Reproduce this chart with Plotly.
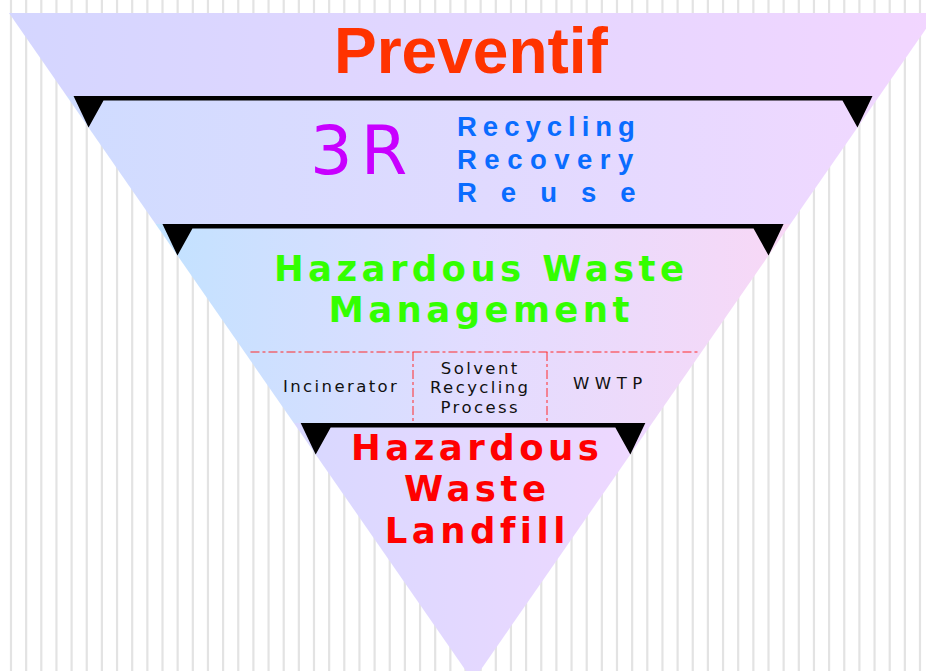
import plotly.graph_objects as go

# ---------------- content ----------------
top_label = "Preventif"
r3_label = "3R"
r3_items = ["Recycling", "Recovery", "Reuse"]
mgmt_lines = ["Hazardous Waste", "Management"]
treatments = [["Incinerator"], ["Solvent", "Recycling", "Process"], ["WWTP"]]
landfill_lines = ["Hazardous", "Waste", "Landfill"]

# ---------------- geometry (pixel space of the 926x671 canvas) ----------------
W, H = 926, 671
CX = 473.0            # centre line of the inverted triangle
TOP_Y = 13.0          # top edge of the triangle
APEX_Y = 681.0        # apex (just below the canvas)
TOP_HALF = 464.0      # half width at the top edge
K = TOP_HALF / (APEX_Y - TOP_Y)

def half(y):
    return (APEX_Y - y) * K

level_tops = [96, 224, 423]          # y of the black separators
bar_th = 4.5
tip_depth = 31.5
tip_w = 15.0

section_bounds = [TOP_Y, 96, 224, 423, APEX_Y]
section_colors = [
    [[0, "#d4d6ff"], [1, "#f2d6ff"]],
    [[0, "#cfdcff"], [1, "#f0d8ff"]],
    [[0, "#c2e2ff"], [0.5, "#e2dcff"], [1, "#f8d8f6"]],
    [[0, "#d8d8ff"], [1, "#efd8ff"]],
]

fig = go.Figure()

# background vertical stripes
stripe_x0, stripe_dx, n_stripes = 11.0, 15.15, 61
shapes = []
for i in range(n_stripes):
    x = stripe_x0 + i * stripe_dx
    shapes.append(dict(type="line", xref="x", yref="y", x0=x, x1=x, y0=0, y1=H,
                       line=dict(color="#e3e3e3", width=2.2), layer="below"))

# triangle sections with horizontal gradients
for (y0, y1), cs in zip(zip(section_bounds[:-1], section_bounds[1:]), section_colors):
    xs = [CX - half(y0), CX + half(y0), CX + half(y1), CX - half(y1), CX - half(y0)]
    ys = [y0, y0, y1, y1, y0]
    fig.add_trace(go.Scatter(x=xs, y=ys, mode="lines", fill="toself",
                             fillgradient=dict(type="horizontal", colorscale=cs),
                             line=dict(width=0), hoverinfo="skip", showlegend=False))

# black separators (bar + downward tips on the triangle edges)
for yt in level_tops:
    ty = yt + tip_depth
    tl = CX - half(ty)
    tr = CX + half(ty)
    yb = yt + bar_th
    xs = [tl - tip_w, tr + tip_w, tr, tr - tip_w, tl + tip_w, tl, tl - tip_w]
    ys = [yt, yt, ty, yb, yb, ty, yt]
    fig.add_trace(go.Scatter(x=xs, y=ys, mode="lines", fill="toself", fillcolor="black",
                             line=dict(width=0, color="black"), hoverinfo="skip",
                             showlegend=False))

# red dash-dot partition lines
div_y = 352
div_x = [413, 547]
red = "#ff2a2a"
shapes.append(dict(type="line", xref="x", yref="y", x0=CX - half(div_y) + 6, x1=CX + half(div_y) - 2,
                   y0=div_y, y1=div_y, line=dict(color=red, width=1, dash="dashdot")))
for x in div_x:
    shapes.append(dict(type="line", xref="x", yref="y", x0=x, x1=x, y0=div_y, y1=level_tops[2],
                       line=dict(color=red, width=1, dash="dashdot")))

# ---------------- text ----------------
ann = []

def add_text(lines, x, y, family, size, color, bold=False, ls=0, spacing=None,
             xanchor="center"):
    """Multi-line label as one annotation; glyph size via span, line pitch via base size."""
    if isinstance(lines, str):
        lines = [lines]
    style = "font-size:%spx" % size
    if ls:
        style += ";letter-spacing:%spx" % ls
    if bold:
        style += ";font-weight:bold"
    txt = "<br>".join('<span style="%s">%s</span>' % (style, l) for l in lines)
    base = (spacing / 1.3) if spacing else size
    ann.append(dict(text=txt, x=x, y=y, xref="x", yref="y", showarrow=False,
                    xanchor=xanchor, yanchor="middle", align=xanchor if xanchor != "center" else "center",
                    font=dict(family=family, size=base, color=color)))

ARIAL = "Liberation Sans, Arial"
WIDE = "DejaVu Sans"

add_text(top_label, 471, 50.5, ARIAL, 64, "#ff3300", bold=True)
add_text(r3_label, 362, 150.5, WIDE, 67, "#c800ff", ls=8)

r3_y = [126.5, 159, 192.5]
r3_ls = [6.0, 7.5, 24.0]
for txt, y, ls in zip(r3_items, r3_y, r3_ls):
    add_text(txt, 455, y, ARIAL, 27.5, "#0a6cff", bold=True, ls=ls, xanchor="left")

add_text(mgmt_lines, 481, 288.5, WIDE, 35.5, "#33ff00", bold=True, ls=4.4, spacing=41.3)

treat_x = [341, 480, 610]
treat_y = [386.5, 388.2, 383]
treat_ls = [2.4, 2.4, 5.5]
for item, x, y, ls in zip(treatments, treat_x, treat_y, treat_ls):
    add_text(item, x, y, WIDE, 16.5, "#111111", ls=ls, spacing=19.3)

add_text(landfill_lines, 477, 489.3, WIDE, 35.5, "#ff0000", bold=True, ls=4.5, spacing=41.3)

fig.update_layout(
    width=W, height=H,
    margin=dict(l=0, r=0, t=0, b=0),
    paper_bgcolor="white", plot_bgcolor="white",
    xaxis=dict(range=[0, W], visible=False, fixedrange=True),
    yaxis=dict(range=[H, 0], visible=False, fixedrange=True),
    shapes=shapes, annotations=ann, showlegend=False,
)

fig.write_html("out.html", config={"displayModeBar": False},
               post_script="document.body.style.margin='0';document.body.style.overflow='hidden';")
